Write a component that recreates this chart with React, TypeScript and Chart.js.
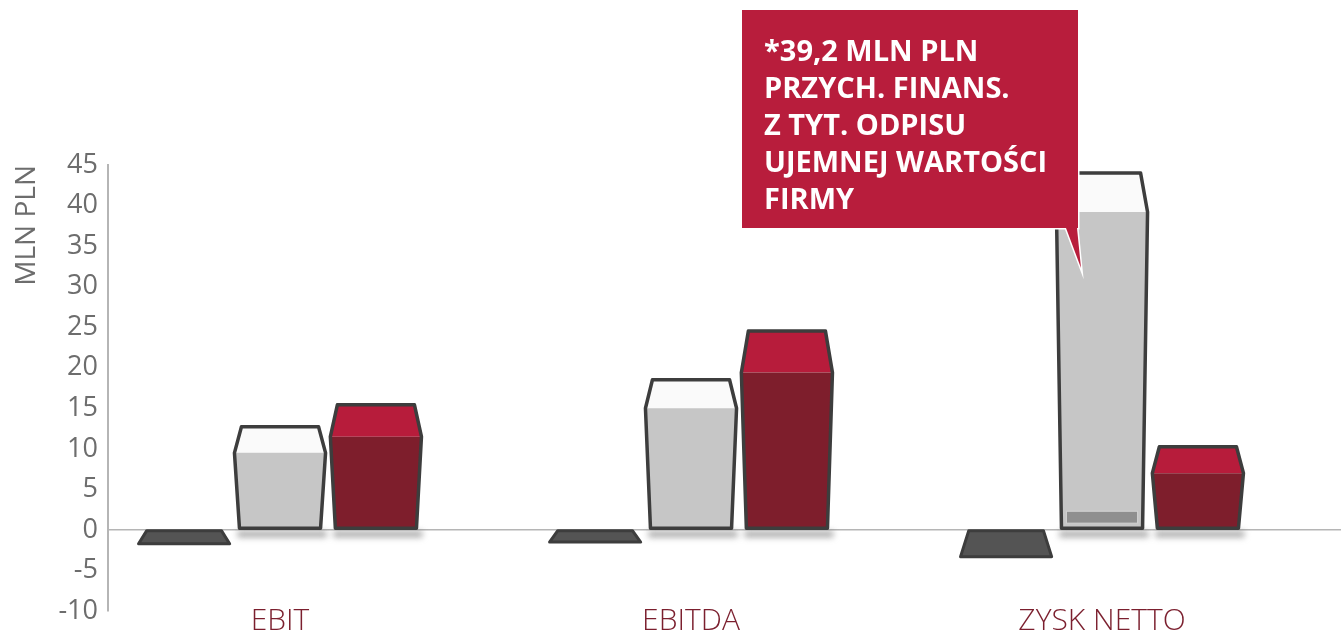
import React, { useEffect, useRef } from 'react';
import { Chart, registerables } from 'chart.js';

Chart.register(...registerables);

// ---- data ----
const categories = ['EBIT', 'EBITDA', 'ZYSK NETTO'];
const darkValues = [-1.7, -1.5, -3.3];
const grayValues = [9.5, 15.0, 39.2];
const redValues = [11.5, 19.4, 7.0];
const innerValues = [null, null, 2.3];
const yMin = -10;
const yMax = 45;
const yStep = 5;
const axisTitle = 'MLN PLN';
const noteLines = ['*39,2 MLN PLN', 'PRZYCH. FINANS.', 'Z TYT. ODPISU', 'UJEMNEJ WARTOŚCI', 'FIRMY'];

const OUTLINE = '#3d3d3d';

const shapesPlugin = {
  id: 'shapes3d',
  afterDatasetsDraw(chart: any) {
    const ctx: CanvasRenderingContext2D = chart.ctx;
    const yScale = chart.scales.y;

    // soft shadows under positive bars
    [1, 2].forEach((di) => {
      chart.getDatasetMeta(di).data.forEach((bar: any) => {
        const { x, base, width } = bar.getProps(['x', 'base', 'width'], true);
        ctx.save();
        ctx.filter = 'blur(3px)';
        ctx.fillStyle = 'rgba(105,105,105,0.6)';
        ctx.fillRect(x - width / 2 + 3, base + 2, width - 2, 6);
        ctx.restore();
      });
    });

    // dark negative slabs
    chart.getDatasetMeta(0).data.forEach((bar: any) => {
      const { x, y, base, width: w } = bar.getProps(['x', 'y', 'base', 'width'], true);
      ctx.save();
      ctx.beginPath();
      ctx.moveTo(x - w * 0.41, base);
      ctx.lineTo(x + w * 0.41, base);
      ctx.lineTo(x + w / 2, y);
      ctx.lineTo(x - w / 2, y);
      ctx.closePath();
      ctx.fillStyle = '#545454';
      ctx.fill();
      ctx.lineWidth = 3;
      ctx.lineJoin = 'round';
      ctx.strokeStyle = OUTLINE;
      ctx.stroke();
      ctx.restore();
    });

    const drawBox = (bar: any, face: string, top: string, depthFn: (h: number) => number) => {
      const { x, y, base, width: w } = bar.getProps(['x', 'y', 'base', 'width'], true);
      const h = base - y;
      const yt = y - depthFn(h);
      const inTop = 7;
      const inBase = 5;
      ctx.save();
      ctx.beginPath();
      ctx.moveTo(x - w / 2 + inTop, yt);
      ctx.lineTo(x + w / 2 - inTop, yt);
      ctx.lineTo(x + w / 2, y);
      ctx.lineTo(x - w / 2, y);
      ctx.closePath();
      ctx.fillStyle = top;
      ctx.fill();
      ctx.beginPath();
      ctx.moveTo(x - w / 2, y);
      ctx.lineTo(x + w / 2, y);
      ctx.lineTo(x + w / 2 - inBase, base);
      ctx.lineTo(x - w / 2 + inBase, base);
      ctx.closePath();
      ctx.fillStyle = face;
      ctx.fill();
      ctx.beginPath();
      ctx.moveTo(x - w / 2 + inTop, yt);
      ctx.lineTo(x + w / 2 - inTop, yt);
      ctx.lineTo(x + w / 2, y);
      ctx.lineTo(x + w / 2 - inBase, base - 1);
      ctx.lineTo(x - w / 2 + inBase, base - 1);
      ctx.lineTo(x - w / 2, y);
      ctx.closePath();
      ctx.lineWidth = 3.5;
      ctx.lineJoin = 'round';
      ctx.strokeStyle = OUTLINE;
      ctx.stroke();
      ctx.restore();
    };

    chart.getDatasetMeta(1).data.forEach((bar: any, i: number) => {
      drawBox(bar, '#c6c6c6', '#fafafa', (h) => 22 + 0.054 * h);
      const inner = innerValues[i];
      if (inner != null) {
        const { x, base, width: w } = bar.getProps(['x', 'base', 'width'], true);
        const yi = yScale.getPixelForValue(inner);
        ctx.save();
        ctx.fillStyle = '#8f8f8f';
        ctx.fillRect(x - w / 2 + 10, yi, w - 20, base - 6 - yi);
        ctx.strokeStyle = '#d2d2d2';
        ctx.lineWidth = 1;
        ctx.strokeRect(x - w / 2 + 10, yi, w - 20, base - 6 - yi);
        ctx.restore();
      }
    });
    chart.getDatasetMeta(2).data.forEach((bar: any) => {
      drawBox(bar, '#7e1e2c', '#b71c3b', (h) => 18 + 0.15 * h);
    });
  },
  afterDraw(chart: any) {
    const ctx: CanvasRenderingContext2D = chart.ctx;
    ctx.save();
    const bx = 742, by = 10, bw = 336, bh = 218;
    ctx.fillStyle = '#b81d3c';
    ctx.strokeStyle = '#ffffff';
    ctx.lineWidth = 3;
    ctx.beginPath();
    ctx.moveTo(bx, by);
    ctx.lineTo(bx + bw, by);
    ctx.lineTo(bx + bw, by + bh);
    ctx.lineTo(bx + bw - 1, by + bh);
    ctx.lineTo(bx + bw + 3, by + bh + 40);
    ctx.lineTo(bx + bw - 12, by + bh);
    ctx.lineTo(bx, by + bh);
    ctx.closePath();
    ctx.stroke();
    ctx.fill();
    ctx.fillStyle = '#ffffff';
    ctx.font = '700 29px "Open Sans"';
    ctx.textBaseline = 'alphabetic';
    ctx.textAlign = 'left';
    noteLines.forEach((line, i) => {
      ctx.fillText(line, 764, 61 + i * 37);
    });
    ctx.restore();
  },
};

export default function App() {
  const ref = useRef<HTMLCanvasElement>(null);
  useEffect(() => {
    if (!ref.current) return;
    const mk = (vals: number[]) => vals.map((v, i) => ({ x: i, y: v }));
    const common = {
      backgroundColor: 'rgba(0,0,0,0)',
      borderWidth: 0,
      categoryPercentage: 0.7,
      barPercentage: 0.95,
    };
    const chart = new Chart(ref.current, {
      type: 'bar',
      data: {
        datasets: [
          { label: 'a', data: mk(darkValues), ...common },
          { label: 'b', data: mk(grayValues), ...common },
          { label: 'c', data: mk(redValues), ...common },
        ],
      } as any,
      options: {
        animation: false,
        responsive: true,
        maintainAspectRatio: false,
        layout: { padding: { top: 165, left: 0, right: 0, bottom: 0 } },
        plugins: { legend: { display: false }, tooltip: { enabled: false } },
        scales: {
          x: {
            type: 'linear',
            offset: false,
            min: -0.4185,
            max: 2.5815,
            grid: { display: false, drawTicks: false },
            border: { display: false },
            afterBuildTicks: (s: any) => {
              s.ticks = categories.map((_, i) => ({ value: i }));
            },
            afterFit: (s: any) => {
              s.height = 27;
            },
            ticks: {
              callback: (v: any) => categories[v] ?? '',
              mirror: true,
              padding: -28,
              autoSkip: false,
              maxRotation: 0,
              color: '#7b1f2e',
              font: { family: '"Open Sans"', size: 30, weight: '300' },
            },
          },
          y: {
            min: yMin,
            max: yMax,
            afterFit: (s: any) => {
              s.width = 108;
            },
            ticks: {
              stepSize: yStep,
              padding: 10,
              color: '#6d6d6d',
              font: { family: '"Open Sans"', size: 27, weight: '400' },
            },
            grid: {
              drawTicks: false,
              lineWidth: 1.5,
              color: (c: any) => (c.tick && c.tick.value === 0 ? '#b5b5b5' : 'rgba(0,0,0,0)'),
            },
            border: { color: '#b5b5b5', width: 2 },
            title: {
              display: true,
              text: axisTitle,
              align: 'end',
              color: '#6d6d6d',
              padding: { top: 10, bottom: 0 },
              font: { family: '"Open Sans"', size: 28, weight: '400' },
            },
          },
        },
      } as any,
      plugins: [shapesPlugin],
    });
    return () => chart.destroy();
  }, []);
  return (
    <div style={{ position: 'fixed', left: 0, top: 0, width: 1341, height: 638, background: '#ffffff' }}>
      <canvas ref={ref} />
    </div>
  );
}
